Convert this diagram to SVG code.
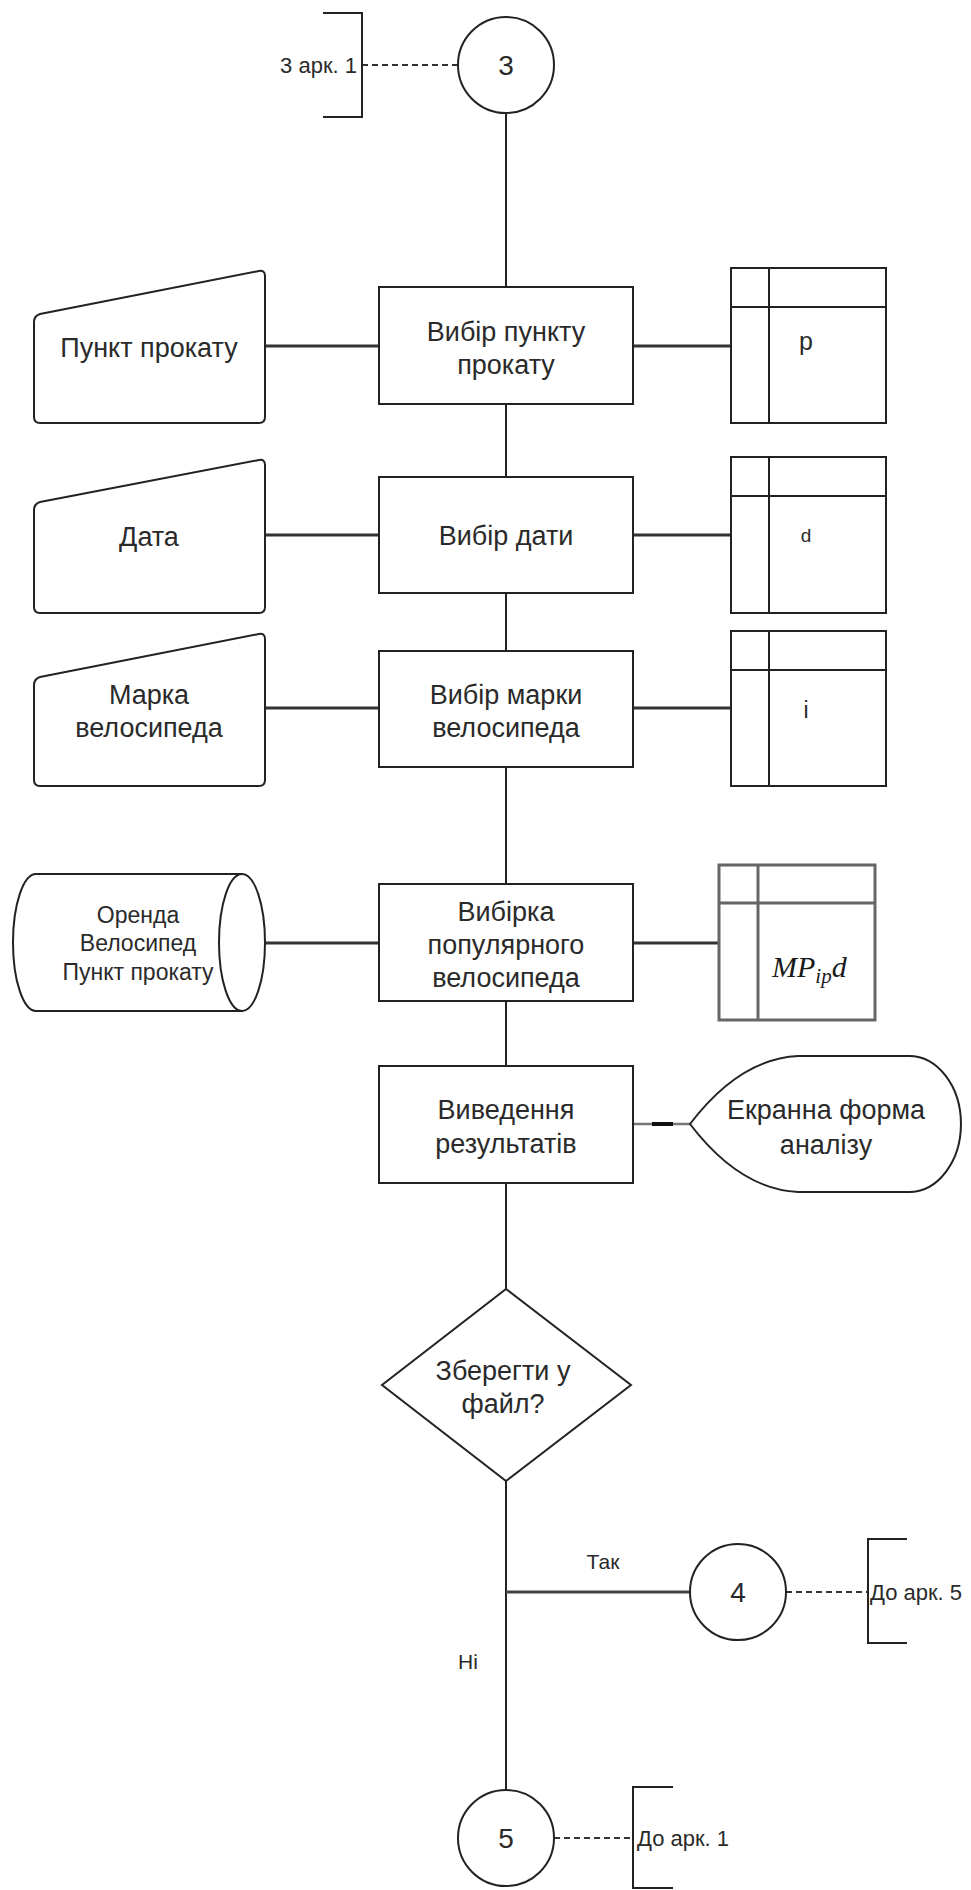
<svg xmlns="http://www.w3.org/2000/svg" width="971" height="1890" viewBox="0 0 971 1890">
  <style>
    .shape { fill: #ffffff; stroke: #222222; stroke-width: 2; }
    .line { fill: none; stroke: #222222; stroke-width: 2; }
    .link { fill: none; stroke: #333333; stroke-width: 3; }
    .dash { fill: none; stroke: #333333; stroke-width: 2; stroke-dasharray: 6 4; }
    .grid { fill: none; stroke: #222222; stroke-width: 2; }
    .gray { fill: #ffffff; stroke: #666666; stroke-width: 3; }
    .grayline { fill: none; stroke: #666666; stroke-width: 3; }
    text { font-family: "Liberation Sans", Arial, sans-serif; fill: #2a2a2a; }
    .lbl { font-size: 27px; text-anchor: middle; }
    .small { font-size: 22px; }
    .num { font-size: 28px; text-anchor: middle; }
    .math { font-family: "Liberation Serif", "Times New Roman", serif; font-style: italic; fill: #1a1a1a; }
  </style>

  <rect width="971" height="1890" fill="#ffffff"/>

  <!-- connectors -->
  <g id="connectors">
    <line class="line" x1="506" y1="113" x2="506" y2="287"/>
    <line class="line" x1="506" y1="404" x2="506" y2="477"/>
    <line class="line" x1="506" y1="593" x2="506" y2="651"/>
    <line class="line" x1="506" y1="767" x2="506" y2="884"/>
    <line class="line" x1="506" y1="1001" x2="506" y2="1066"/>
    <line class="line" x1="506" y1="1183" x2="506" y2="1289"/>
    <line class="line" x1="506" y1="1481" x2="506" y2="1790"/>
    <line class="link" x1="506" y1="1592" x2="690" y2="1592" style="stroke:#444444"/>

    <line class="link" x1="265" y1="346" x2="379" y2="346"/>
    <line class="link" x1="633" y1="346" x2="731" y2="346"/>
    <line class="link" x1="265" y1="535" x2="379" y2="535"/>
    <line class="link" x1="633" y1="535" x2="731" y2="535"/>
    <line class="link" x1="265" y1="708" x2="379" y2="708"/>
    <line class="link" x1="633" y1="708" x2="731" y2="708"/>
    <line class="link" x1="265" y1="943" x2="379" y2="943"/>
    <line class="link" x1="633" y1="943" x2="719" y2="943"/>

    <line x1="633" y1="1124" x2="690" y2="1124" stroke="#777777" stroke-width="2.5"/>
    <line x1="652" y1="1124" x2="673" y2="1124" stroke="#111111" stroke-width="4"/>

    <line class="dash" x1="362" y1="65" x2="458" y2="65"/>
    <line class="dash" x1="786" y1="1592" x2="868" y2="1592"/>
    <line class="dash" x1="554" y1="1838" x2="633" y2="1838"/>

    <text x="603" y="1569" style="font-size:21px" text-anchor="middle">Так</text>
    <text x="468" y="1669" style="font-size:21px" text-anchor="middle">Ні</text>
  </g>

  <!-- off-page reference 3 -->
  <g id="ref-in-3">
    <path class="line" d="M323,13 H362 V117 H323"/>
    <text class="small" x="357" y="73" text-anchor="end">3 арк. 1</text>
  </g>
  <g id="connector-3">
    <circle class="shape" cx="506" cy="65" r="48"/>
    <text class="num" x="506" y="75">3</text>
  </g>

  <!-- step 1 -->
  <g id="input-point">
    <path class="shape" d="M40,314 L259,271 Q265,270 265,276 V417 Q265,423 259,423 H40 Q34,423 34,417 V322 Q34,316 40,314 Z"/>
    <text class="lbl" x="149" y="357">Пункт прокату</text>
  </g>
  <g id="select-point">
    <rect class="shape" x="379" y="287" width="254" height="117"/>
    <text class="lbl" x="506" y="341">Вибір пункту</text>
    <text class="lbl" x="506" y="374">прокату</text>
  </g>
  <g id="table-p">
    <rect class="shape" x="731" y="268" width="155" height="155"/>
    <line class="grid" x1="731" y1="307" x2="886" y2="307"/>
    <line class="grid" x1="769" y1="268" x2="769" y2="423"/>
    <text x="806" y="350" style="font-size:25px" text-anchor="middle">p</text>
  </g>

  <!-- step 2 -->
  <g id="input-date">
    <path class="shape" d="M40,502 L259,460 Q265,459 265,465 V607 Q265,613 259,613 H40 Q34,613 34,607 V510 Q34,504 40,502 Z"/>
    <text class="lbl" x="149" y="546">Дата</text>
  </g>
  <g id="select-date">
    <rect class="shape" x="379" y="477" width="254" height="116"/>
    <text class="lbl" x="506" y="545">Вибір дати</text>
  </g>
  <g id="table-d">
    <rect class="shape" x="731" y="457" width="155" height="156"/>
    <line class="grid" x1="731" y1="496" x2="886" y2="496"/>
    <line class="grid" x1="769" y1="457" x2="769" y2="613"/>
    <text x="806" y="542" style="font-size:19px" text-anchor="middle">d</text>
  </g>

  <!-- step 3 -->
  <g id="input-brand">
    <path class="shape" d="M40,677 L259,634 Q265,633 265,639 V780 Q265,786 259,786 H40 Q34,786 34,780 V685 Q34,679 40,677 Z"/>
    <text class="lbl" x="149" y="704">Марка</text>
    <text class="lbl" x="149" y="737">велосипеда</text>
  </g>
  <g id="select-brand">
    <rect class="shape" x="379" y="651" width="254" height="116"/>
    <text class="lbl" x="506" y="704">Вибір марки</text>
    <text class="lbl" x="506" y="737">велосипеда</text>
  </g>
  <g id="table-i">
    <rect class="shape" x="731" y="631" width="155" height="155"/>
    <line class="grid" x1="731" y1="670" x2="886" y2="670"/>
    <line class="grid" x1="769" y1="631" x2="769" y2="786"/>
    <text x="806" y="718" style="font-size:23px" text-anchor="middle">i</text>
  </g>

  <!-- step 4 -->
  <g id="store-db">
    <path class="shape" d="M36,874 H242 V1011 H36 A23,68.5 0 0 1 36,874 Z"/>
    <ellipse class="shape" cx="242" cy="942.5" rx="23" ry="68.5"/>
    <text class="lbl" x="138" y="923" style="font-size:23px">Оренда</text>
    <text class="lbl" x="138" y="951" style="font-size:23px">Велосипед</text>
    <text class="lbl" x="138" y="980" style="font-size:23px">Пункт прокату</text>
  </g>
  <g id="select-popular">
    <rect class="shape" x="379" y="884" width="254" height="117"/>
    <text class="lbl" x="506" y="921">Вибірка</text>
    <text class="lbl" x="506" y="954">популярного</text>
    <text class="lbl" x="506" y="987">велосипеда</text>
  </g>
  <g id="table-mp">
    <rect class="gray" x="719" y="865" width="156" height="155"/>
    <line class="grayline" x1="719" y1="903" x2="875" y2="903"/>
    <line class="grayline" x1="758" y1="865" x2="758" y2="1020"/>
    <text class="math" x="772" y="977" style="font-size:30px">MP<tspan dy="6" style="font-size:21px">ip</tspan><tspan dy="-6">d</tspan></text>
  </g>

  <!-- step 5 -->
  <g id="output-results">
    <rect class="shape" x="379" y="1066" width="254" height="117"/>
    <text class="lbl" x="506" y="1119">Виведення</text>
    <text class="lbl" x="506" y="1153">результатів</text>
  </g>
  <g id="display-form">
    <path class="shape" d="M690,1124 C722,1082 758,1058 798,1056 H909 A52,68 0 0 1 909,1192 H798 C758,1190 722,1166 690,1124 Z"/>
    <text class="lbl" x="826" y="1119">Екранна форма</text>
    <text class="lbl" x="826" y="1154">аналізу</text>
  </g>

  <!-- decision -->
  <g id="decision-save">
    <path class="shape" d="M506,1289 L631,1385 L506,1481 L382,1385 Z"/>
    <text class="lbl" x="503" y="1380">Зберегти у</text>
    <text class="lbl" x="503" y="1413">файл?</text>
  </g>

  <!-- off-page references 4 and 5 -->
  <g id="connector-4">
    <circle class="shape" cx="738" cy="1592" r="48"/>
    <text class="num" x="738" y="1602">4</text>
  </g>
  <g id="ref-out-4">
    <path class="line" d="M907,1539 H868 V1643 H907"/>
    <text class="small" x="870" y="1600">До арк. 5</text>
  </g>
  <g id="connector-5">
    <circle class="shape" cx="506" cy="1838" r="48"/>
    <text class="num" x="506" y="1848">5</text>
  </g>
  <g id="ref-out-5">
    <path class="line" d="M673,1787 H633 V1888 H673"/>
    <text class="small" x="637" y="1846">До арк. 1</text>
  </g>
</svg>
